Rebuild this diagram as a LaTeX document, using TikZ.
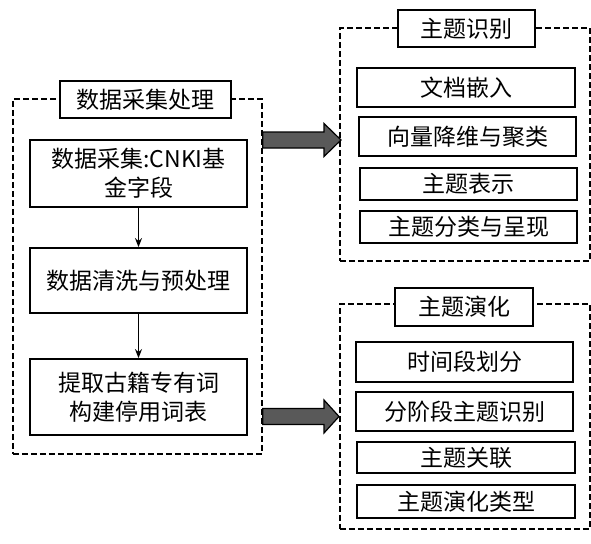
\documentclass[tikz,border=0pt]{standalone}
\usepackage{fontspec}
\newfontfamily\cjk{Noto Sans CJK SC}
\usetikzlibrary{arrows.meta,calc}
\tikzset{
  grp/.style={draw,dashed,line width=1.8pt,dash pattern=on 6pt off 3pt,anchor=north west,inner sep=0pt},
  ttl/.style={draw,fill=white,line width=1.8pt,font=\cjk\fontsize{23}{29}\selectfont,inner sep=0pt},
  stepbox/.style={draw,line width=1.8pt,font=\cjk\fontsize{23}{29}\selectfont,align=center,inner sep=0pt},
  flow/.style={line width=1.8pt,-{Stealth[length=9pt,width=7pt]}},
  fat/.style={draw=black,line width=1.2pt,fill=black!65}
}
\begin{document}
\begin{tikzpicture}[x=1pt,y=-1pt]
\useasboundingbox (0,0) rectangle (591,543);
\node[grp,minimum width=249pt,minimum height=355pt] (grpL) at (12,98) {};
\node[grp,minimum width=250pt,minimum height=233pt] (grpT) at (339,27) {};
\node[grp,minimum width=250pt,minimum height=225pt] (grpB) at (339,303) {};

\node[ttl,minimum width=171pt,minimum height=37pt] (ttlL) at (145.5,99.5) {数据采集处理};
\node[ttl,minimum width=137pt,minimum height=37pt] (ttlT) at (466.5,28.5) {主题识别};
\node[ttl,minimum width=138pt,minimum height=38pt] (ttlB) at (464,307) {主题演化};

\node[stepbox,minimum width=217pt,minimum height=67pt] (collect) at (138.5,173.5) {数据采集:CNKI基\\金字段};
\node[stepbox,minimum width=217pt,minimum height=65pt] (clean) at (138.5,280.5) {数据清洗与预处理};
\node[stepbox,minimum width=217pt,minimum height=76pt] (stop) at (138.5,397) {提取古籍专有词\\构建停用词表};
\draw[flow] (collect) -- (clean);
\draw[flow] (clean) -- (stop);

\node[stepbox,minimum width=218pt,minimum height=39pt] (embed) at (466,87.5) {文档嵌入};
\node[stepbox,minimum width=217pt,minimum height=39pt] (reduce) at (467.5,136.5) {向量降维与聚类};
\node[stepbox,minimum width=217pt,minimum height=32pt] (repr) at (468.5,184) {主题表示};
\node[stepbox,minimum width=217pt,minimum height=32pt] (classify) at (468.5,227) {主题分类与呈现};

\node[stepbox,minimum width=217pt,minimum height=40pt] (period) at (464.5,362) {时间段划分};
\node[stepbox,minimum width=217pt,minimum height=39pt] (stage) at (464.5,411.5) {分阶段主题识别};
\node[stepbox,minimum width=218pt,minimum height=31pt] (link) at (466,457.5) {主题关联};
\node[stepbox,minimum width=218pt,minimum height=33pt] (evtype) at (466,501.5) {主题演化类型};

\coordinate (s1) at (grpL.east |- 0,140);
\coordinate (e1) at (grpT.west |- 0,140);
\coordinate (s2) at (grpL.east |- 0,416.5);
\coordinate (e2) at (grpB.west |- 0,416.5);
\draw[fat] ($(s1)+(0,-8)$) -- ($(e1)+(-15,-8)$) -- ($(e1)+(-15,-16.5)$) -- ($(e1)+(2,0)$)
  -- ($(e1)+(-15,16.5)$) -- ($(e1)+(-15,8)$) -- ($(s1)+(0,8)$) -- cycle;
\draw[fat] ($(s2)+(0,-8)$) -- ($(e2)+(-15,-8)$) -- ($(e2)+(-15,-16.5)$) -- ($(e2)+(0,0)$)
  -- ($(e2)+(-15,16.5)$) -- ($(e2)+(-15,8)$) -- ($(s2)+(0,8)$) -- cycle;
\end{tikzpicture}
\end{document}
